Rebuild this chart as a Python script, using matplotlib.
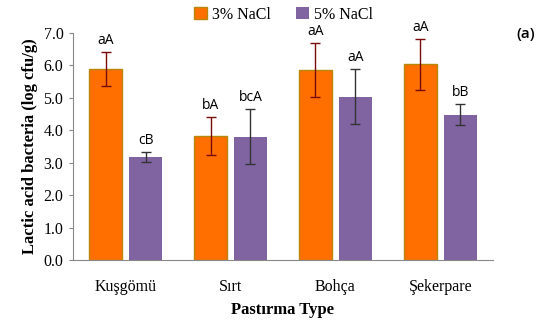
import matplotlib.pyplot as plt
import numpy as np

types = ['Kuşgömü', 'Sırt', 'Bohça', 'Şekerpare']
nacl3 = [5.89, 3.83, 5.86, 6.03]
nacl3_err = [0.53, 0.59, 0.84, 0.79]
nacl5 = [3.18, 3.80, 5.03, 4.48]
nacl5_err = [0.15, 0.85, 0.85, 0.33]
labels3 = ['aA', 'bA', 'aA', 'aA']
labels5 = ['cB', 'bcA', 'aA', 'bB']

serif = 'Liberation Serif'

fig = plt.figure(figsize=(5.5, 3.23), dpi=100)
ax = fig.add_axes([0.133, 0.195, 0.763, 0.703])

x = np.arange(len(types))
w = 0.31
off = 0.19

b1 = ax.bar(x - off, nacl3, w, color='#FF6F00', edgecolor='#B8860B', linewidth=1.0, label='3% NaCl')
b2 = ax.bar(x + off, nacl5, w, color='#8064A2', label='5% NaCl')
ax.errorbar(x - off, nacl3, yerr=nacl3_err, fmt='none', ecolor='#7A0A0A', elinewidth=1, capsize=3.5)
ax.errorbar(x + off, nacl5, yerr=nacl5_err, fmt='none', ecolor='#333333', elinewidth=1, capsize=3.5)

for i in range(len(types)):
    ax.text(x[i] - off, nacl3[i] + nacl3_err[i] + 0.12, labels3[i], ha='center', va='bottom',
            fontsize=10, family='Open Sans')
    ax.text(x[i] + off, nacl5[i] + nacl5_err[i] + 0.12, labels5[i], ha='center', va='bottom',
            fontsize=10, family='Open Sans')

ax.set_xlim(-0.5, 3.5)
ax.set_ylim(0, 7)
ax.set_yticks(np.arange(0, 7.5, 1.0))
ax.set_yticklabels(['%.1f' % v for v in np.arange(0, 7.5, 1.0)], family=serif, fontsize=11.5)
ax.set_xticks(x)
ax.set_xticklabels(types, family=serif, fontsize=11.5)
ax.tick_params(axis='x', length=0, pad=14)
ax.tick_params(axis='y', length=3, color='#888888', pad=4)
for s in ['top', 'right']:
    ax.spines[s].set_visible(False)
for s in ['left', 'bottom']:
    ax.spines[s].set_color('#888888')

ax.set_ylabel('Lactic acid bacteria (log cfu/g)', family=serif, fontsize=12, fontweight='bold')
ax.set_xlabel('Pastırma Type', family=serif, fontsize=12, fontweight='bold', labelpad=5)

fig.legend(handles=[b1, b2], loc='center', bbox_to_anchor=(0.515, 0.955), ncol=2, frameon=False,
           prop={'family': serif, 'size': 11.5}, handlelength=0.8, handleheight=0.8,
           columnspacing=1.6, handletextpad=0.3)
fig.text(0.955, 0.895, '(a)', family='Open Sans', fontsize=11, fontweight='semibold', ha='center', va='center')

fig.savefig('out.png', dpi=100)
